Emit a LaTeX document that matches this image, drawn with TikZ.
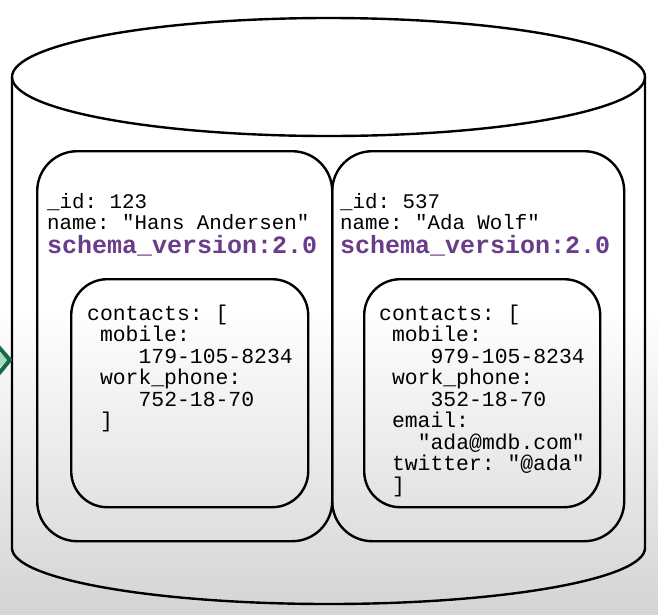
\documentclass[tikz,border=0pt]{standalone}
\usepackage{fontspec}
\setmonofont{Liberation Mono}
\definecolor{schemapurple}{RGB}{106,60,138}
\definecolor{bggray}{RGB}{212,212,212}
\definecolor{chevdark}{RGB}{26,104,70}
\definecolor{chevlight}{RGB}{160,222,192}
\pgfdeclareverticalshading{bgshade}{100bp}{color(0bp)=(bggray); color(25bp)=(bggray); color(50bp)=(white); color(100bp)=(white)}
\begin{document}
\begin{tikzpicture}[x=1pt,y=1pt,line join=round,
  outline/.style={draw=black,line width=2.4pt},
  docbox/.style={outline,rounded corners=40pt,inner sep=0pt},
  subbox/.style={outline,rounded corners=36pt,inner sep=0pt},
  txt/.style={anchor=base west,inner sep=0pt,font=\ttfamily\fontsize{20.8}{22}\selectfont},
  ctxt/.style={anchor=base west,inner sep=0pt,font=\ttfamily\fontsize{21.4}{22}\selectfont},
  schema/.style={anchor=base west,inner sep=0pt,text=schemapurple,font=\ttfamily\bfseries\fontsize{25}{26}\selectfont}]
\useasboundingbox (0,-614) rectangle (658,0);
\clip (0,-614) rectangle (658,0);
% background gradient
\shade[shading=bgshade] (0,-614) rectangle (658,0);
% cylinder
\draw[outline] (12,-77) -- (12,-548)
  arc[start angle=180,end angle=360,x radius=316.5,y radius=56] -- (645,-77);
\draw[outline] (328.5,-77) ellipse[x radius=316.5,y radius=59];
% documents
\node[docbox,anchor=north west,minimum width=295,minimum height=390] (docA) at (36,-150) {};
\node[docbox,anchor=north west,minimum width=292,minimum height=390] (docB) at (331,-150) {};
\node[subbox,anchor=north west,minimum width=237,minimum height=228] (subA) at (70,-278) {};
\node[subbox,anchor=north west,minimum width=236,minimum height=228] (subB) at (363,-278) {};
% document A text
\node[txt] (idA) at (47,-208) {\_id: 123};
\node[txt] (nameA) at (47,-229) {name: "Hans Andersen"};
\node[schema] (schA) at (47,-253) {schema\_version:2.0};
\node[ctxt] (cA1) at (87,-320) {contacts: [};
\node[ctxt] (cA2) at (99.8,-341.5) {mobile:};
\node[ctxt] (cA3) at (138.4,-363) {179-105-8234};
\node[ctxt] (cA4) at (99.8,-384.5) {work\_phone:};
\node[ctxt] (cA5) at (138.4,-406) {752-18-70};
\node[ctxt] (cA6) at (99.8,-427.5) {]};
% document B text
\node[txt] (idB) at (340,-208) {\_id: 537};
\node[txt] (nameB) at (340,-229) {name: "Ada Wolf"};
\node[schema] (schB) at (340,-253) {schema\_version:2.0};
\node[ctxt] (cB1) at (379,-320) {contacts: [};
\node[ctxt] (cB2) at (391.8,-341.5) {mobile:};
\node[ctxt] (cB3) at (430.4,-363) {979-105-8234};
\node[ctxt] (cB4) at (391.8,-384.5) {work\_phone:};
\node[ctxt] (cB5) at (430.4,-406) {352-18-70};
\node[ctxt] (cB6) at (391.8,-427.5) {email:};
\node[ctxt] (cB7) at (417.6,-449) {"ada@mdb.com"};
\node[ctxt] (cB8) at (391.8,-470.5) {twitter: "@ada"};
\node[ctxt] (cB9) at (391.8,-492) {]};
% green chevron at left edge
\fill[chevlight] (-12,-344) -- (9,-360) -- (-12,-377) -- cycle;
\draw[chevdark,line width=4pt,line join=miter] (-4,-344) -- (10,-360) -- (-4,-377);
\end{tikzpicture}
\end{document}
